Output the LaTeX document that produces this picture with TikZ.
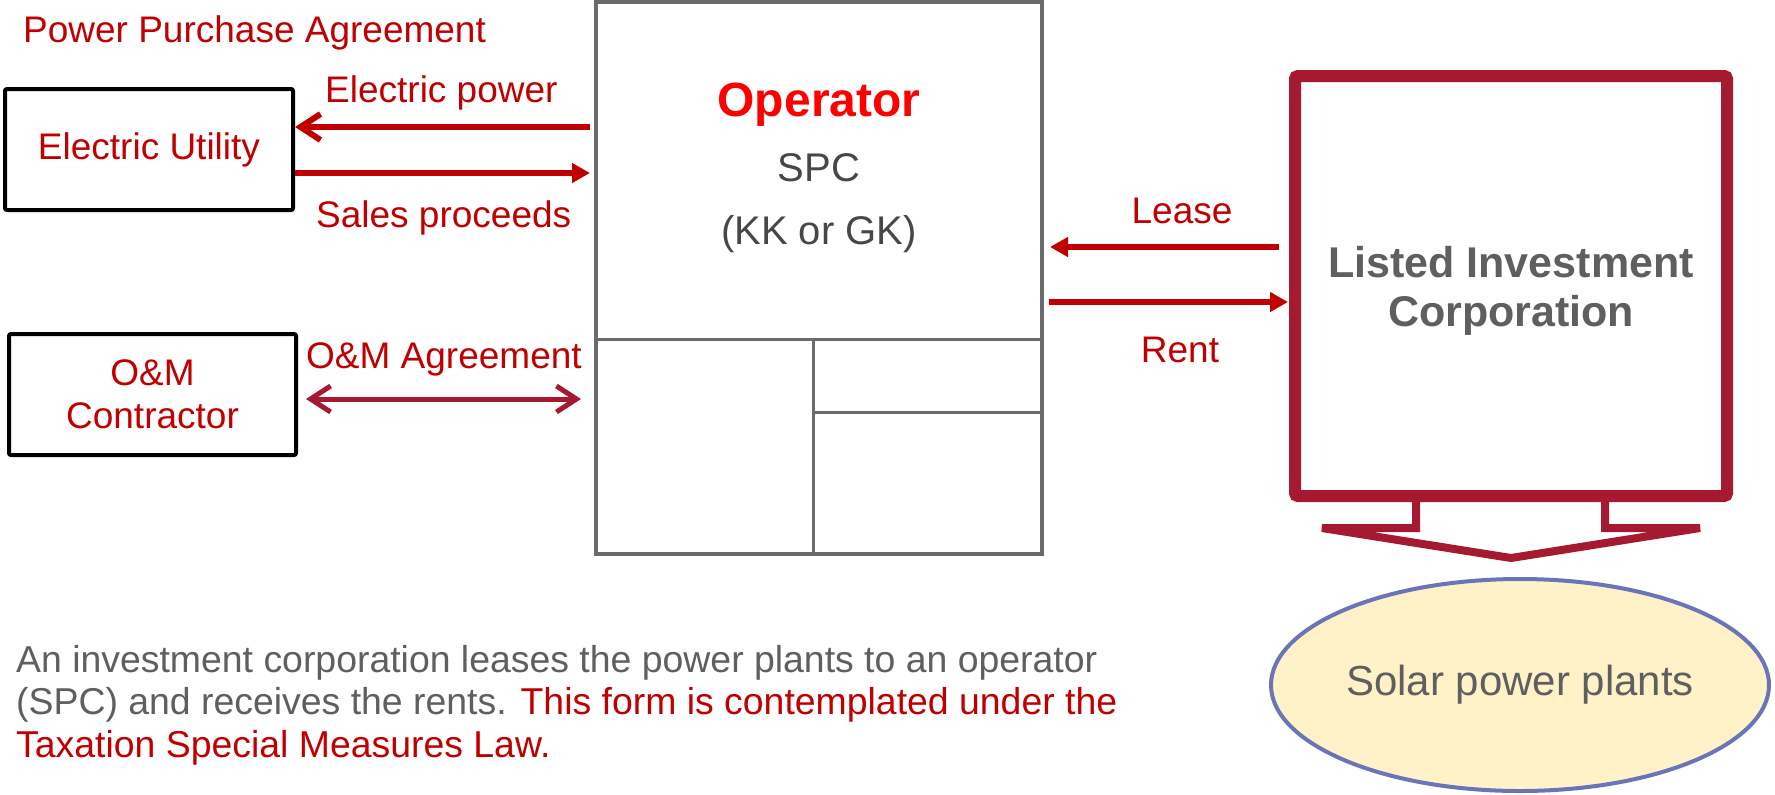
\documentclass[tikz,border=0pt]{standalone}
\usepackage{fontspec}
\setmainfont{Liberation Sans}
\usetikzlibrary{arrows.meta,shapes.geometric,calc}
\definecolor{dred}{HTML}{C00000}
\definecolor{crim}{HTML}{A51931}
\definecolor{opred}{HTML}{FF0000}
\definecolor{gtxt}{HTML}{5F5F5F}
\definecolor{spcgray}{HTML}{474747}
\definecolor{opline}{HTML}{6B6B6B}
\definecolor{ellfill}{HTML}{FFF2C9}
\definecolor{ellline}{HTML}{6A75B8}
\begin{document}
\begin{tikzpicture}[x=1pt,y=-1pt,
  blackbox/.style={draw=black, line width=4pt, rounded corners=2pt, minimum width=288pt, minimum height=121pt, inner sep=0pt, text=dred, font=\fontsize{37}{43}\selectfont, align=center},
  lbl/.style={anchor=base west, inner sep=0pt, text=dred, font=\fontsize{37}{43}\selectfont},
  para/.style={lbl, font=\fontsize{37.4}{43}\selectfont},
  optxt/.style={anchor=base, inner sep=0pt, text=spcgray, font=\fontsize{40}{46}\selectfont},
  litxt/.style={anchor=base, inner sep=0pt, text=gtxt, font=\bfseries\fontsize{43}{49}\selectfont},
  opdiv/.style={draw=opline, line width=3pt},
  redarrow/.style={draw=dred, line width=6pt}
]
\useasboundingbox (0,0) rectangle (1775,795);
\fill[white] (0,0) rectangle (1775,795);

% helper coordinates (rows of the connectors)
\coordinate (yEP) at (0,127);
\coordinate (ySP) at (0,173);
\coordinate (yOM) at (0,399);
\coordinate (yLE) at (0,247);
\coordinate (yRE) at (0,302);
\coordinate (yD1) at (0,339);
\coordinate (yD2) at (0,412);
\coordinate (xDV) at (813,0);

% left boxes
\node[blackbox] (eu) at (149,149.5) {Electric Utility};
\node[blackbox, minimum width=287pt] (om) at (152.5,394.5) {O\&M\\Contractor};

% operator box
\node[draw=opline, line width=4pt, minimum width=446pt, minimum height=552pt, inner sep=0pt] (op) at (819,278) {};
\draw[opdiv] (op.west |- yD1) -- (op.east |- yD1);
\draw[opdiv] (xDV |- yD1) -- (xDV |- op.south);
\draw[opdiv] (xDV |- yD2) -- (op.east |- yD2);
\node[anchor=base, inner sep=0pt, text=opred, font=\bfseries\fontsize{48}{55}\selectfont] (opt) at (819,116) {Operator};
\node[optxt] (spc) at (819,181) {SPC};
\node[optxt] (kk) at (819,244) {(KK or GK)};

% listed investment corporation
\node[draw=crim, line width=12pt, rounded corners=3pt, minimum width=432pt, minimum height=420pt, inner sep=0pt, fill=white] (lic) at (1511,286) {};
\node[litxt] (lic1) at (1511,277) {Listed Investment};
\node[litxt] (lic2) at (1511,326) {Corporation};

% down arrow outline below the box
\draw[crim, line width=8pt, line join=miter]
  ($(lic.south)+(-95,-4)$) -- ++(0,30) -- ++(-94,0) -- ($(lic.south)+(0,56)$)
  -- ($(lic.south)+(189,26)$) -- ++(-95,0) -- ++(0,-30);

% solar power plants
\node[ellipse, draw=ellline, line width=4pt, fill=ellfill, minimum width=498pt, minimum height=212pt, inner sep=0pt, text=gtxt, font=\fontsize{42}{48}\selectfont] (sol) at (1520,685) {Solar power plants};

% connectors
\draw[redarrow, -{Straight Barb[length=20pt,width=26pt]}, shorten <=4pt] (op.west |- yEP) -- (eu.east |- yEP);
\draw[redarrow, -{Triangle[length=18pt,width=19pt]}, shorten >=4pt] (eu.east |- ySP) -- (op.west |- ySP);
\draw[crim, line width=5pt, {Straight Barb[length=20pt,width=26pt]}-{Straight Barb[length=20pt,width=26pt]}, shorten <=8pt, shorten >=13pt] (om.east |- yOM) -- (op.west |- yOM);
\draw[redarrow, -{Triangle[length=18pt,width=19pt]}, shorten <=10pt, shorten >=6pt] (lic.west |- yLE) -- (op.east |- yLE);
\draw[redarrow, -{Triangle[length=18pt,width=19pt]}, shorten <=5pt, shorten >=1pt] (op.east |- yRE) -- (lic.west |- yRE);

% labels
\node[lbl] (ppa) at (23,42) {Power Purchase Agreement};
\node[lbl] (epl) at (325,102) {Electric power};
\node[lbl] (spl) at (316,227) {Sales proceeds};
\node[lbl] (oml) at (306,368) {O\&M Agreement};
\node[lbl, anchor=base] (lel) at (1182,223) {Lease};
\node[lbl, anchor=base] (rel) at (1180,362) {Rent};

% paragraph
\node[para, text=gtxt] (p1) at (16,672) {An investment corporation leases the power plants to an operator};
\node[para, text=gtxt] (p2) at (16,714) {(SPC) and receives the rents. \textcolor{dred}{This form is contemplated under the}};
\node[para] (p3) at (16,757) {Taxation Special Measures Law.};
\end{tikzpicture}
\end{document}
